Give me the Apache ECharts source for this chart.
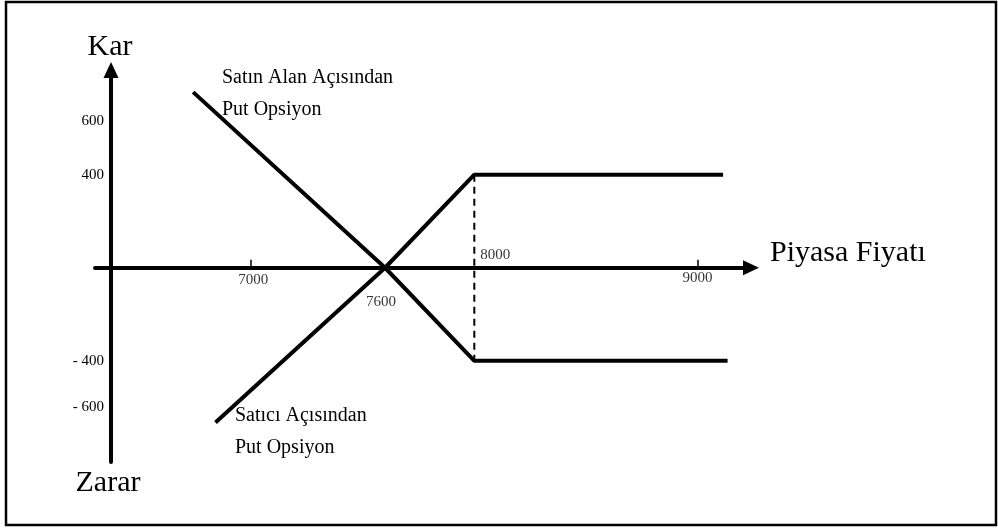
<!DOCTYPE html>
<html>
<head>
<meta charset="utf-8">
<script src="https://cdn.jsdelivr.net/npm/echarts@6/dist/echarts.min.js"></script>
<style>
  html, body { margin: 0; padding: 0; background: #fff; }
  #chart { width: 998px; height: 532px; }
</style>
</head>
<body>
<div id="chart"></div>
<script>
// payoff lines (piyasa fiyati, kar/zarar)
const buyerPut = [[6740, 755], [7600, 0], [8000, -400], [9135, -400]];
const sellerPut = [[6840, -665], [7600, 0], [8000, 400], [9115, 400]];
const strikeLine = [[8000, 400], [8000, -400]];
const xTicks = [7000, 9000];
const yTicks = [600, 400, -400, -600];
const pointLabels = [7000, 7600, 8000, 9000];

const serif = "'Liberation Serif', 'Times New Roman', serif";
const chart = echarts.init(document.getElementById("chart"));

// where each value label sits around its point on the x axis
const labelPlace = {
    7000: { position: "bottom", offset: [2, 0] },
    7600: { position: "bottom", offset: [-4, 22] },
    8000: { position: "top", offset: [21, 0] },
    9000: { position: "bottom", offset: [0, -2] }
};

let option = {
    animation: false,
    backgroundColor: "#fff",
    grid: {
        left: 95,
        right: 247,
        top: 70,
        bottom: 70
    },
    xAxis: {
        type: "value",
        min: 6300,
        max: 9240,
        axisLine: {
            show: true,
            onZero: true,
            symbol: ["none", "triangle"],
            symbolSize: [15, 16],
            lineStyle: { color: "#000", width: 4 }
        },
        axisTick: {
            show: true,
            inside: true,
            length: 8,
            customValues: xTicks,
            lineStyle: { color: "#000", width: 1.5 }
        },
        axisLabel: { show: false },
        splitLine: { show: false }
    },
    yAxis: {
        type: "value",
        min: -835,
        max: 850,
        offset: -16,
        axisLine: {
            show: true,
            symbol: ["none", "triangle"],
            symbolSize: [15, 16],
            lineStyle: { color: "#000", width: 4 }
        },
        axisTick: { show: false },
        axisLabel: {
            customValues: yTicks,
            margin: 7,
            color: "#000",
            fontFamily: serif,
            fontSize: 15,
            formatter: function(v) {
                if (v === 600) return "{hi|600}";
                return v < 0 ? "- " + Math.abs(v) : String(v);
            },
            rich: {
                hi: { fontFamily: serif, fontSize: 15, color: "#000", padding: [0, 0, 15, 0] }
            }
        },
        splitLine: { show: false }
    },
    series: [
        {
            name: "Satın Alan Açısından Put Opsiyon",
            type: "line",
            data: buyerPut,
            symbol: "none",
            lineStyle: { color: "#000", width: 4 }
        },
        {
            name: "Satıcı Açısından Put Opsiyon",
            type: "line",
            data: sellerPut,
            symbol: "none",
            lineStyle: { color: "#000", width: 4 }
        },
        {
            name: "strike",
            type: "line",
            data: strikeLine,
            symbol: "none",
            lineStyle: { color: "#000", width: 2, type: [7, 5] }
        },
        {
            name: "labels",
            type: "scatter",
            symbolSize: 0,
            z: 5,
            data: pointLabels.map(v => {
                return {
                    value: [v, 0],
                    label: {
                        show: true,
                        formatter: String(v),
                        position: labelPlace[v].position,
                        distance: 5,
                        offset: labelPlace[v].offset,
                        color: "#000",
                        fontFamily: serif,
                        fontSize: 15
                    }
                };
            })
        }
    ],
    graphic: [
        {
            type: "rect",
            shape: { x: 6, y: 2, width: 990, height: 523 },
            style: { fill: "none", stroke: "#000", lineWidth: 2.5 },
            silent: true
        },
        {
            type: "text",
            x: 110, y: 47,
            style: { text: "Kar", fontFamily: serif, fontSize: 30, fill: "#000", align: "center", verticalAlign: "middle" }
        },
        {
            type: "text",
            x: 108, y: 483,
            style: { text: "Zarar", fontFamily: serif, fontSize: 30, fill: "#000", align: "center", verticalAlign: "middle" }
        },
        {
            type: "text",
            x: 770, y: 253,
            style: { text: "Piyasa Fiyatı", fontFamily: serif, fontSize: 30, fill: "#000", align: "left", verticalAlign: "middle" }
        },
        {
            type: "text",
            x: 222, y: 62,
            style: { text: "Satın Alan Açısından\nPut Opsiyon", fontFamily: serif, fontSize: 20, lineHeight: 32, fill: "#000", align: "left", verticalAlign: "top" }
        },
        {
            type: "text",
            x: 235, y: 400,
            style: { text: "Satıcı Açısından\nPut Opsiyon", fontFamily: serif, fontSize: 20, lineHeight: 32, fill: "#000", align: "left", verticalAlign: "top" }
        }
    ]
};
chart.setOption(option, true);
</script>
</body>
</html>
